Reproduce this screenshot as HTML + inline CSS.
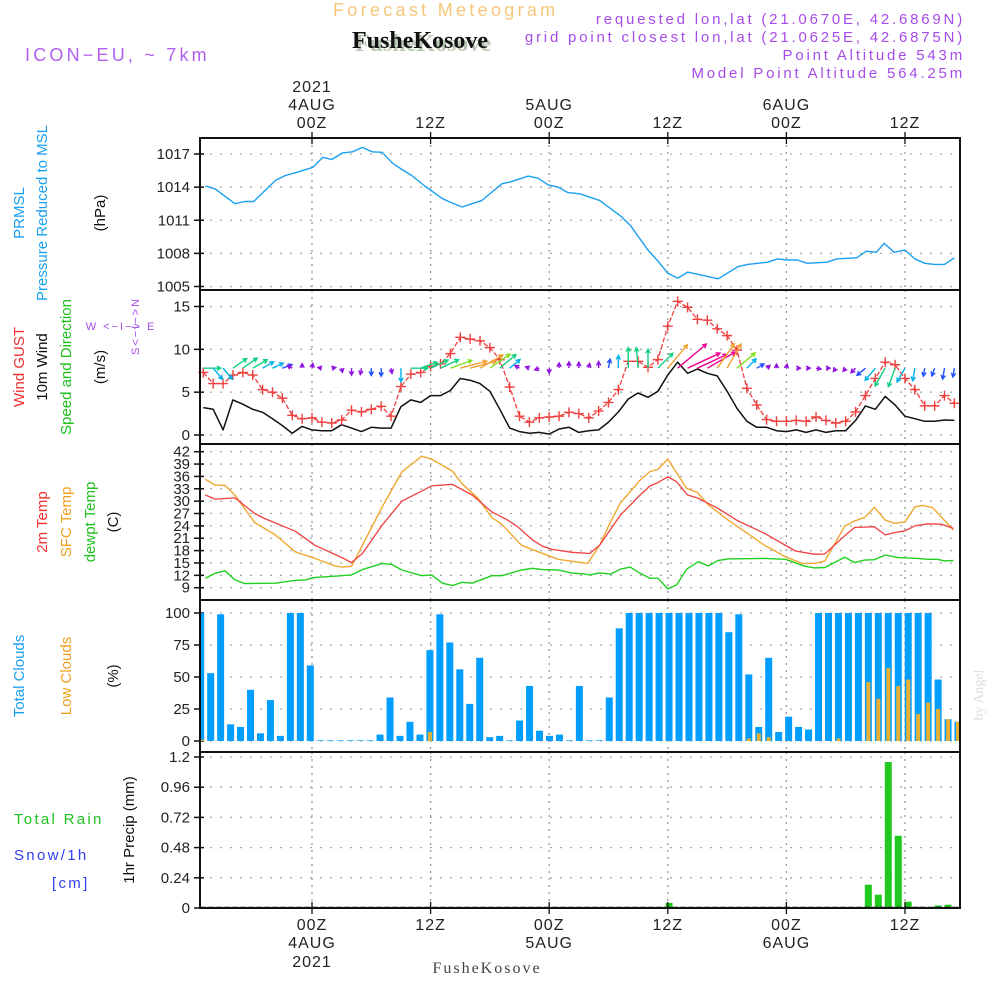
<!DOCTYPE html>
<html><head><meta charset="utf-8"><style>
html,body{margin:0;padding:0;background:#fff;}
svg{display:block;font-family:"Liberation Sans",sans-serif;}
</style></head><body>
<svg id="chart" width="1000" height="1000" viewBox="0 0 1000 1000" xmlns="http://www.w3.org/2000/svg">
<rect width="1000" height="1000" fill="#fff"/>
<g id="header">
<text x="333" y="16" font-size="18" fill="#f5c77a" letter-spacing="3.3">Forecast Meteogram</text>
<text x="355" y="51" font-size="24" font-weight="bold" font-family="Liberation Serif,serif" fill="#b9c8b4">FusheKosove</text>
<text x="352" y="48" font-size="24" font-weight="bold" font-family="Liberation Serif,serif" fill="#111">FusheKosove</text>
<text x="965" y="24" font-size="15" fill="#a64ce8" text-anchor="end" letter-spacing="2.8">requested lon,lat (21.0670E, 42.6869N)</text>
<text x="965" y="42" font-size="15" fill="#a64ce8" text-anchor="end" letter-spacing="2.8">grid point closest lon,lat (21.0625E, 42.6875N)</text>
<text x="965" y="60" font-size="15" fill="#a64ce8" text-anchor="end" letter-spacing="2.8">Point Altitude 543m</text>
<text x="965" y="78" font-size="15" fill="#a64ce8" text-anchor="end" letter-spacing="2.8">Model Point Altitude 564.25m</text>
<text x="25" y="61" font-size="18" fill="#b060f0" letter-spacing="3.2">ICON−EU, ~ 7km</text>
<text x="487" y="973" font-size="16" font-family="Liberation Serif,serif" fill="#444" text-anchor="middle" letter-spacing="2">FusheKosove</text>
<text transform="translate(983,695) rotate(-90)" font-size="14" font-family="Liberation Serif,serif" fill="#ddd" text-anchor="middle">by Angel</text>
</g>
<g id="labels" font-size="15">
<text transform="translate(24,213) rotate(-90)" text-anchor="middle" fill="#1aa0f0">PRMSL</text>
<text transform="translate(47,213) rotate(-90)" text-anchor="middle" fill="#1aa0f0">Pressure Reduced to MSL</text>
<text transform="translate(105,213) rotate(-90)" text-anchor="middle" fill="#111">(hPa)</text>
<text transform="translate(24,367) rotate(-90)" text-anchor="middle" fill="#f03030">Wind GUST</text>
<text transform="translate(47,367) rotate(-90)" text-anchor="middle" fill="#111">10m Wind</text>
<text transform="translate(71,367) rotate(-90)" text-anchor="middle" fill="#20c020">Speed and Direction</text>
<text transform="translate(105,367) rotate(-90)" text-anchor="middle" fill="#111">(m/s)</text>
<text x="121" y="330" font-size="11" text-anchor="middle" fill="#a64ce8" letter-spacing="2">W &lt;−I−&gt; E</text>
<text transform="translate(139,326) rotate(-90)" font-size="11" text-anchor="middle" fill="#a64ce8" letter-spacing="2">S&lt;−I−&gt;N</text>
<text transform="translate(47,522) rotate(-90)" text-anchor="middle" fill="#f03030">2m Temp</text>
<text transform="translate(71,522) rotate(-90)" text-anchor="middle" fill="#f0a020">SFC Temp</text>
<text transform="translate(95,522) rotate(-90)" text-anchor="middle" fill="#20c020">dewpt Temp</text>
<text transform="translate(118,522) rotate(-90)" text-anchor="middle" fill="#111">(C)</text>
<text transform="translate(24,676) rotate(-90)" text-anchor="middle" fill="#1aa0f0">Total Clouds</text>
<text transform="translate(71,676) rotate(-90)" text-anchor="middle" fill="#f0a020">Low Clouds</text>
<text transform="translate(118,676) rotate(-90)" text-anchor="middle" fill="#111">(%)</text>
<text x="14" y="824" fill="#20c020" letter-spacing="2.3">Total  Rain</text>
<text x="14" y="860" fill="#3040f0" letter-spacing="2.3">Snow/1h</text>
<text x="52" y="888" fill="#3040f0" letter-spacing="2.3">[cm]</text>
<text transform="translate(134,830) rotate(-90)" text-anchor="middle" fill="#111">1hr Precip (mm)</text>
</g>
<g id="plot"></g>
</svg>
<script>
// ---- data ----
const timeTickHours = [0, 12, 24, 36, 48, 60];
const timeTickLabels = ["00Z", "12Z", "00Z", "12Z", "00Z", "12Z"];
const dateLabels = ["4AUG", "", "5AUG", "", "6AUG", ""];
const pressHours = [-10.8,-9.8,-7.8,-6.8,-5.9,-3.7,-2.7,-1.7,0.1,1.1,2.0,3.1,4.1,5.1,6.1,7.1,8.1,9.1,10.1,11.4,13.2,14.2,15.2,16.2,17.2,19.2,20.2,21.9,22.9,23.9,24.9,25.9,27.1,29.1,31.2,32.2,34.0,35.0,36.0,37.0,38.0,39.1,41.1,43.1,44.1,46.1,47.1,48.1,49.1,50.1,52.1,53.1,55.1,56.1,57.1,57.9,58.9,60.0,61.0,62.0,63.0,64.0,65.0];
const pressVals = [1014.1,1013.85,1012.5,1012.7,1012.7,1014.6,1015.05,1015.3,1015.8,1016.7,1016.5,1017.1,1017.2,1017.6,1017.2,1017.15,1016.2,1015.6,1015.05,1014.1,1012.95,1012.55,1012.2,1012.5,1012.8,1014.3,1014.5,1015.0,1014.8,1014.2,1014.0,1013.5,1013.4,1012.8,1011.4,1010.55,1008.3,1007.3,1006.2,1005.75,1006.3,1006.1,1005.7,1006.8,1007.0,1007.2,1007.5,1007.4,1007.4,1007.1,1007.2,1007.5,1007.6,1008.2,1008.1,1008.9,1008.1,1008.3,1007.5,1007.1,1007.0,1007.0,1007.6];
const pressTicks = [1005, 1008, 1011, 1014, 1017];
const windStartHour = -11;
const gustVals = [7.3,6.0,6.0,7.0,7.3,7.0,5.3,5.0,4.3,2.3,1.9,2.0,1.5,1.4,1.75,2.9,2.7,3.0,3.35,2.2,5.65,7.1,7.3,8.0,8.3,9.5,11.4,11.2,11.0,10.2,8.8,5.6,2.2,1.5,2.0,2.1,2.2,2.65,2.5,2.0,2.8,3.8,5.3,8.6,8.6,7.9,8.8,12.7,15.6,14.9,13.5,13.4,12.4,11.6,9.9,5.45,3.5,1.8,1.6,1.6,1.7,1.6,2.1,1.7,1.4,1.6,2.7,4.6,6.6,8.5,8.2,6.6,5.3,3.4,3.4,4.6,3.7];
const wind10Vals = [3.2,3.0,0.6,4.1,3.6,3.0,2.65,1.9,1.1,0.2,1.0,0.6,0.5,0.5,1.2,0.8,0.4,0.9,0.8,0.8,3.3,4.1,3.8,4.6,4.6,5.2,6.6,6.4,6.0,5.1,3.0,0.8,0.4,0.2,0.3,0.1,0.7,0.9,0.3,0.5,0.6,1.5,2.7,4.2,4.9,4.4,5.1,7.0,8.5,7.2,7.7,7.2,6.9,5.1,3.1,1.6,0.9,0.9,0.5,0.4,0.6,0.3,0.6,0.3,0.5,0.5,1.7,3.4,3.0,4.5,3.5,2.2,1.9,1.6,1.6,1.75,1.7];
const windDirDeg = [0,-50,-50,35,35,30,30,25,20,150,90,80,170,10,-80,-90,-100,-90,-90,-80,-90,0,20,25,25,20,15,15,30,35,40,40,150,160,200,-90,90,90,90,80,90,80,90,90,95,90,45,50,40,25,25,30,55,60,40,45,30,40,90,80,0,0,-10,0,-125,-130,-135,-140,-130,-120,-110,-120,-100,-100,-110,-100,-100];
const windTicks = [0, 5, 10, 15];
const t2Hours = [-10.8,-9.8,-7.8,-5.8,-4.8,-1.7,0.3,3.3,4.0,5.1,7.1,9.1,12.1,14.2,16.2,18.2,19.8,20.8,22.3,23.3,24.3,26.3,28.1,29.1,31.2,33.2,34.2,35.0,36.0,36.9,38.0,39.1,41.1,43.1,45.8,48.9,50.9,51.9,53.9,54.9,56.9,58.0,59.0,60.0,61.0,62.3,63.7,64.9];
const t2Vals = [31.5,30.5,30.8,27.0,25.8,22.7,19.3,16.0,15.1,17.3,24.2,30.0,33.7,34.1,31.5,27.4,25.4,23.8,20.6,19.1,18.3,17.6,17.3,19.3,26.6,31.5,33.7,34.5,35.9,34.7,31.5,30.7,28.2,25.2,22.2,17.9,17.1,17.2,21.6,23.6,23.8,21.8,22.4,22.8,24.0,24.5,24.4,23.4];
const sfcHours = [-10.8,-9.8,-8.8,-7.8,-5.8,-3.7,-1.7,0.3,2.3,3.1,4.0,5.1,7.1,9.1,11.1,12.1,14.2,15.2,16.8,18.2,19.2,21.2,22.9,24.9,26.6,27.9,29.1,30.2,31.2,33.2,34.2,35.0,36.0,37.9,39.0,40.1,42.1,43.8,45.8,47.9,49.6,50.9,51.9,53.9,54.9,55.9,56.9,58.0,59.0,60.0,61.0,61.8,62.8,64.9];
const sfcVals = [35.3,33.9,33.8,31.5,24.8,21.8,17.7,16.1,14.3,14.0,14.2,19.3,28.6,37.1,40.9,40.2,37.3,34.2,30.7,26.0,24.4,19.3,17.7,15.9,15.3,14.9,19.3,25.0,29.5,35.1,37.2,37.7,40.2,33.1,32.1,29.1,25.4,22.6,19.3,16.5,14.9,14.9,15.5,23.9,25.2,26.0,28.5,25.4,24.6,25.0,28.6,29.0,28.4,23.0];
const dewHours = [-10.8,-9.8,-8.8,-7.8,-6.8,-3.7,-1.7,-0.7,0.3,2.3,4.0,5.1,7.1,8.1,9.1,11.1,12.1,13.2,14.2,15.2,16.2,18.2,19.2,21.2,22.3,23.3,24.9,26.3,27.6,28.1,29.1,30.2,31.2,32.2,33.2,34.2,35.0,36.0,36.9,37.9,39.1,40.1,41.1,42.1,45.8,47.9,49.9,50.9,51.9,53.9,54.9,55.9,56.9,58.0,59.3,61.3,62.3,63.3,64.0,64.9];
const dewVals = [11.3,12.5,13.1,10.9,10.0,10.1,10.8,10.9,11.5,11.8,12.1,13.4,14.9,14.6,13.3,11.9,12.1,10.1,9.5,10.3,10.1,11.9,11.9,13.3,13.7,13.4,13.3,12.6,12.3,12.1,12.6,12.3,13.5,14.0,12.5,11.3,11.3,8.7,9.7,13.5,15.3,14.3,15.6,16.0,16.1,15.9,14.2,13.8,13.9,16.4,15.1,15.7,15.8,16.9,16.3,16.1,15.9,15.9,15.5,15.6];
const tempTicks = [9,12,15,18,21,24,27,30,33,36,39,42];
const totalClouds = [100,53,99,13,11,40,6,32,4,100,100,59,0.5,0.5,0.5,0.5,0.5,0.5,5,34,4,15,5,71,99,77,56,29,65,3,4,0.5,16,43,8,4,5,0.5,43,0.5,0.5,34,88,100,100,100,100,100,100,100,100,100,100,85,99,52,11,65,7,19,11,9,100,100,100,100,100,100,100,100,100,100,100,100,48,17,15];
const lowClouds = [1,0,0,0,0,0,0,0,0,0,0,0,0,0,0,0,0,0,0,0,0,0,0,7,0,0,0,0,0,0,0,0,0,0,0,0,0,0,0,0,0,0,0,0,0,0,0,0,0,0,0,0,0,0,0,2,6,3,0,0,0,0,0,0,2,0,0,46,33,57,43,48,21,30,25,17,15];
const cloudTicks = [0, 25, 50, 75, 100];
const precipVals = [0,0,0,0,0,0,0,0,0,0,0,0,0,0,0,0,0,0,0,0,0,0,0,0,0,0,0,0,0,0,0,0,0,0,0,0,0,0,0,0,0,0,0,0,0,0,0,0.04,0,0,0,0,0,0,0,0,0,0,0,0,0,0,0,0,0,0,0,0.185,0.106,1.16,0.574,0.05,0.01,0,0.02,0.026,0];
const precipTicks = [0, 0.24, 0.48, 0.72, 0.96, 1.2];
const precipTickLabels = ["0", "0.24", "0.48", "0.72", "0.96", "1.2"];

// ---- scales ----
const NS = "http://www.w3.org/2000/svg";
const X0 = 200, X1 = 960;
const xT = h => 312 + h * 9.883;
const xBar = i => 200.7 + i * 9.965;
const lin = (d0, d1, r0, r1) => v => r0 + (v - d0) * (r1 - r0) / (d1 - d0);
const yP = lin(1005, 1017, 286.5, 154);
const yW = lin(0, 15, 435, 306.5);
const yTmp = lin(9, 42, 587.7, 451.7);
const yC = lin(0, 100, 741, 613);
const yR = lin(0, 1.2, 908, 757);
const panels = [[138, 290], [290, 444], [444, 600], [600, 752], [752, 908]];
const plot = document.getElementById("plot");
function mk(tag, attrs, parent) {
  const e = document.createElementNS(NS, tag);
  for (const k in attrs) e.setAttribute(k, attrs[k]);
  (parent || plot).appendChild(e);
  return e;
}
function polyline(hours, vals, ys, color, w, name, dash) {
  const pts = hours.map((h, i) => xT(h).toFixed(1) + "," + ys(vals[i]).toFixed(1)).join(" ");
  const p = mk("polyline", {points: pts, fill: "none", stroke: color, "stroke-width": w, "stroke-linejoin": "round"});
  if (dash) p.setAttribute("stroke-dasharray", dash);
  
  
  return p;
}
function yAxis(ticks, labels, ys, name) {
  ticks.forEach((t, i) => {
    const y = ys(t);
    const g = mk("line", {x1: X0, x2: X1, y1: y, y2: y, stroke: "#aaa", "stroke-width": 1.3, "stroke-dasharray": "2,8"});
    
    
    mk("line", {x1: X0 - 6, x2: X0 + 4, y1: y, y2: y, stroke: "#111", "stroke-width": 1.5});
    const tx = mk("text", {x: 190, y: y + 5, "font-size": 15, "text-anchor": "end", fill: "#222"});
    tx.textContent = labels[i];
    
    
  });
}
// vertical grid
panels.forEach(([a, b]) => {
  timeTickHours.forEach(h => {
    const l = mk("line", {x1: xT(h), x2: xT(h), y1: a, y2: b, stroke: "#999", "stroke-width": 1.3, "stroke-dasharray": "2,5"});
    
    
  });
});
yAxis(pressTicks, pressTicks.map(String), yP, "pressure");
yAxis(windTicks, windTicks.map(String), yW, "wind");
yAxis(tempTicks, tempTicks.map(String), yTmp, "temp");
yAxis(cloudTicks, cloudTicks.map(String), yC, "cloud");
yAxis(precipTicks, precipTickLabels, yR, "precip");

// pressure
polyline(pressHours, pressVals, yP, "#1aa0f0", 1.4, "pressure-line");
// wind lines
const windHours = gustVals.map((_, i) => windStartHour + i);
polyline(windHours, wind10Vals, yW, "#111", 1.5, "wind10-line");
polyline(windHours, gustVals, yW, "#f04040", 1.3, "gust-line", "5,2");
gustVals.forEach((v, i) => {
  const x = xT(windHours[i]), y = yW(v);
  const m = mk("path", {d: `M${x-5},${y}H${x+5}M${x},${y-5}V${y+5}`, stroke: "#f04040", "stroke-width": 1.4});
  
  
});
// wind direction arrows
function arrowColor(s) {
  if (s < 3) return "#9010e0";
  if (s < 5) return "#2050ff";
  if (s < 7) return "#00b0e8";
  if (s < 9) return "#10d080";
  if (s < 11) return "#80e020";
  if (s < 13) return "#f0a030";
  return "#f00090";
}
windDirDeg.forEach((d, i) => {
  const s = gustVals[i];
  const len = Math.max(4, s * 2.4);
  const a = d * Math.PI / 180;
  const x0 = xT(windHours[i]), y0 = yW(7.8);
  const x1 = x0 + len * Math.cos(a), y1 = y0 - len * Math.sin(a);
  const hs = 4.5, ang = Math.atan2(y1 - y0, x1 - x0);
  const hx1 = x1 - hs * Math.cos(ang - 0.5), hy1 = y1 - hs * Math.sin(ang - 0.5);
  const hx2 = x1 - hs * Math.cos(ang + 0.5), hy2 = y1 - hs * Math.sin(ang + 0.5);
  const p = mk("path", {d: `M${x0},${y0}L${x1},${y1}M${hx1},${hy1}L${x1},${y1}L${hx2},${hy2}`, stroke: arrowColor(s), "stroke-width": 1.4, fill: "none"});
  
  
});
// temperatures
polyline(dewHours, dewVals, yTmp, "#20d020", 1.4, "dewpoint-line");
polyline(sfcHours, sfcVals, yTmp, "#f0a830", 1.4, "sfc-temp-line");
polyline(t2Hours, t2Vals, yTmp, "#f04040", 1.3, "temp2m-line");
// clouds
totalClouds.forEach((v, i) => {
  const xc = xBar(i);
  const x = Math.max(X0, xc - 3.5), w = Math.min(xc + 3.5, X1) - x;
  const r = mk("rect", {x: x, y: yC(v), width: w, height: yC(0) - yC(v), fill: "#009fff"});
  
  
});
lowClouds.forEach((v, i) => {
  if (v <= 0) return;
  const xc = xBar(i);
  const r = mk("rect", {x: Math.max(X0, xc - 2), y: yC(v), width: 4, height: yC(0) - yC(v), fill: "#e8b030"});
  
  
});
// precip
precipVals.forEach((v, i) => {
  if (v <= 0) return;
  const xc = xBar(i);
  const r = mk("rect", {x: xc - 3.5, y: yR(v), width: 7, height: yR(0) - yR(v), fill: "#20c820"});
  
  
});
mk("line", {x1: X0, x2: X1, y1: 907.5, y2: 907.5, stroke: "#111", "stroke-width": 1.5, "stroke-dasharray": "6,2"});
// panel frames
panels.forEach(([a, b], k) => {
  const r = mk("rect", {x: X0, y: a, width: X1 - X0, height: b - a, fill: "none", stroke: "#111", "stroke-width": 2});
  
  
});
// time labels
timeTickHours.forEach((h, i) => {
  const x = xT(h);
  mk("line", {x1: x, x2: x, y1: 132, y2: 144, stroke: "#111", "stroke-width": 1.3});
  mk("line", {x1: x, x2: x, y1: 902, y2: 914, stroke: "#111", "stroke-width": 1.3});
  const t = mk("text", {x: x, y: 128, "font-size": 16, "text-anchor": "middle", fill: "#222", "letter-spacing": 1});
  t.textContent = timeTickLabels[i];
  
  
  const b = mk("text", {x: x, y: 930, "font-size": 16, "text-anchor": "middle", fill: "#222", "letter-spacing": 1});
  b.textContent = timeTickLabels[i];
  
  
  if (dateLabels[i]) {
    const d = mk("text", {x: x, y: 110, "font-size": 16, "text-anchor": "middle", fill: "#222", "letter-spacing": 1});
    d.textContent = dateLabels[i];
    
    
    const d2 = mk("text", {x: x, y: 948, "font-size": 16, "text-anchor": "middle", fill: "#222", "letter-spacing": 1});
    d2.textContent = dateLabels[i];
    
    
  }
});
[[92, "top-year-label"], [967, "bottom-year-label"]].forEach(([y, n]) => {
  const t = mk("text", {x: xT(0), y: y, "font-size": 16, "text-anchor": "middle", fill: "#222", "letter-spacing": 1});
  t.textContent = "2021";
  
  
});
</script>
</body></html>
